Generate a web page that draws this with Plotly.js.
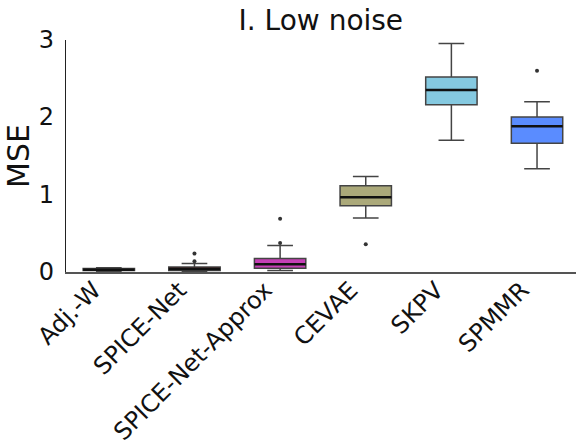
<!DOCTYPE html>
<html><head><meta charset="utf-8">
<script src="https://cdn.plot.ly/plotly-3.0.1.min.js"></script>
<style>body{margin:0;background:#fff}#c{width:576px;height:447px}</style>
</head><body><div id="c"></div>
<script>
const categories = ["Adj.-W","SPICE-Net","SPICE-Net-Approx","CEVAE","SKPV","SPMMR"];
const lowerfence = [0.0, 0.0, 0.01, 0.69, 1.70, 1.33];
const q1         = [0.01, 0.01, 0.04, 0.85, 2.16, 1.66];
const median     = [0.02, 0.03, 0.09, 0.96, 2.35, 1.88];
const q3         = [0.035, 0.055, 0.165, 1.11, 2.52, 2.00];
const upperfence = [0.045, 0.10, 0.335, 1.23, 2.955, 2.20];
const outlierCat = ["SPICE-Net","SPICE-Net","SPICE-Net-Approx","SPICE-Net-Approx","CEVAE","SPMMR"];
const outlierVal = [0.13, 0.23, 0.365, 0.68, 0.35, 2.60];
const colors = ["#1e1e1e","#5e1212","#c63fb6","#aba97a","#85c9e0","#5a8cff"];

const BW = 0.6;
const traces = [];
categories.forEach((c,i)=>{
  traces.push({type:'box', x:[i], q1:[q1[i]], median:[median[i]], q3:[q3[i]],
    lowerfence:[lowerfence[i]], upperfence:[upperfence[i]],
    width:BW, whiskerwidth:0.5, fillcolor:colors[i],
    line:{color:'#444', width:1.5}, boxpoints:false, hoverinfo:'skip', showlegend:false});
});
// thicker median lines
const mx=[], my=[];
categories.forEach((c,i)=>{ mx.push(i-BW/2, i+BW/2, null); my.push(median[i], median[i], null); });
traces.push({type:'scatter', mode:'lines', x:mx, y:my, line:{color:'#111', width:2.5}, showlegend:false, hoverinfo:'skip'});
traces.push({type:'scatter', mode:'markers', x:outlierCat.map(c=>categories.indexOf(c)), y:outlierVal,
  marker:{color:'#333', size:4}, showlegend:false, hoverinfo:'skip'});

const font = "DejaVu Sans, sans-serif";
Plotly.newPlot('c', traces, {
  width:576, height:447,
  margin:{l:66, r:0, t:40, b:175},
  paper_bgcolor:'#fff', plot_bgcolor:'#fff',
  title:{text:'I. Low noise', font:{family:font, size:28, color:'#111'}, x:0.557, xanchor:'center', y:0.955, yanchor:'middle'},
  xaxis:{range:[-0.5,5.455], tickmode:'array', tickvals:categories.map((c,i)=>i), ticktext:categories,
    tickangle:-45, tickfont:{family:font, size:24, color:'#111'}, showgrid:false, zeroline:false,
    ticklabelshift:-15, ticklabelstandoff:-7,
    showline:true, linecolor:'#555', linewidth:1.5, ticks:'', fixedrange:true},
  yaxis:{range:[-0.01,3.0], tickvals:[0,1,2,3], ticktext:['0','1','2','3'],
    tickfont:{family:font, size:24, color:'#111'}, showgrid:false, zeroline:false,
    showline:true, linecolor:'#222', linewidth:1.2, ticks:'outside', ticklen:6, tickcolor:'rgba(0,0,0,0)',
    title:{text:'MSE', font:{family:font, size:30, color:'#111'}, standoff:0}},
}, {staticPlot:true});
</script></body></html>
